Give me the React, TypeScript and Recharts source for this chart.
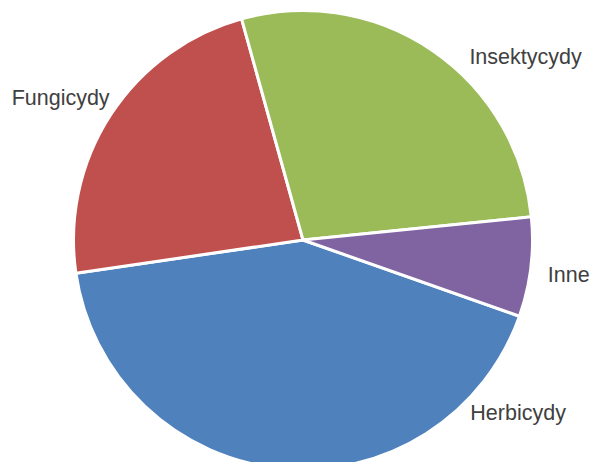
import React from "react";
import { PieChart, Pie, Cell } from "recharts";

const categories = ["Herbicydy", "Fungicydy", "Insektycydy", "Inne"];
const shares = [42.3, 23.0, 27.7, 7.0];
const colors = ["#4F81BD", "#C0504D", "#9BBB59", "#8064A2"];

// label placement (angle in degrees, distance from pie centre)
const labelAngles = [-38.8, 149.6, 39.4, -7.4];
const labelRadii = [276, 281, 288, 268];

const data = categories.map((name, i) => ({ name, value: shares[i] }));

const RAD = Math.PI / 180;

const renderLabel = (props: any) => {
  const { cx, cy, index, name } = props;
  const a = labelAngles[index] * RAD;
  const r = labelRadii[index];
  const x = cx + r * Math.cos(a);
  const y = cy - r * Math.sin(a);
  return (
    <text
      x={x}
      y={y}
      textAnchor="middle"
      dominantBaseline="central"
      fill="#404040"
      fontSize={21.5}
      fontFamily="'Liberation Sans', Arial, sans-serif"
    >
      {name}
    </text>
  );
};

export default function App() {
  return (
    <div style={{ position: "absolute", left: 0, top: 0, width: 590, height: 462, background: "#fff" }}>
      <PieChart width={590} height={462} margin={{ top: 0, right: 0, bottom: 0, left: 0 }}>
        <Pie
          data={data}
          dataKey="value"
          nameKey="name"
          cx={303}
          cy={240}
          outerRadius={229.5}
          startAngle={-19.4}
          endAngle={-379.4}
          stroke="#ffffff"
          strokeWidth={3}
          label={renderLabel}
          labelLine={false}
          isAnimationActive={false}
        >
          {data.map((d, i) => (
            <Cell key={d.name} fill={colors[i]} />
          ))}
        </Pie>
      </PieChart>
    </div>
  );
}
